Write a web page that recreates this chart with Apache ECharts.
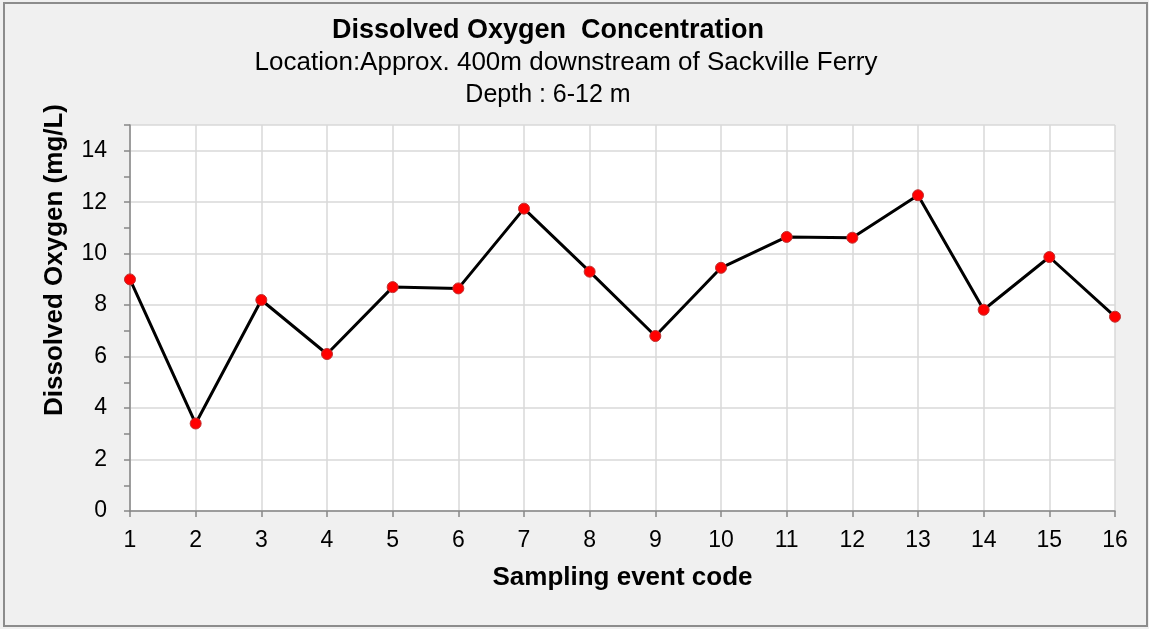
<!DOCTYPE html>
<html lang="en">
<head>
  <meta charset="UTF-8">
  <title>dissolved oxygen</title>
  <style>
    * { padding: 0; margin: 0; }
    body { background: #f0f0f0; }
    #charts { width: 1149px; height: 629px; }
  </style>
</head>
<body>
  <div id="charts"></div>
</body>
<script src="https://cdn.jsdelivr.net/npm/echarts@6/dist/echarts.min.js" type="text/javascript"></script>
<script type="text/javascript">
  var eventCodes = [1, 2, 3, 4, 5, 6, 7, 8, 9, 10, 11, 12, 13, 14, 15, 16]
  var oxygenValues = [9.0, 3.4, 8.2, 6.1, 8.7, 8.65, 11.75, 9.3, 6.8, 9.45, 10.65, 10.62, 12.27, 7.82, 9.87, 7.55]
  var titleText = 'Dissolved Oxygen  Concentration'
  var subLines = ['Location:Approx. 400m downstream of Sackville Ferry', 'Depth : 6-12 m']

  var myChart = echarts.init(document.getElementById('charts'))
  var font = 'Liberation Sans, Arial, sans-serif'

  function buildData() {
    var out = []
    for (var i = 0; i < eventCodes.length; i++) {
      out.push([eventCodes[i], oxygenValues[i]])
    }
    return out
  }

  var option = {
    backgroundColor: '#f0f0f0',
    animation: false,
    textStyle: { fontFamily: font },
    title: [{
      text: titleText,
      left: 548,
      top: 17,
      textAlign: 'center',
      padding: 0,
      textStyle: { fontSize: 27, fontWeight: 'bold', color: '#000', fontFamily: font }
    }, {
      text: subLines[0],
      left: 566,
      top: 50,
      textAlign: 'center',
      padding: 0,
      textStyle: { fontSize: 26, fontWeight: 'normal', color: '#000', fontFamily: font }
    }, {
      text: subLines[1],
      left: 548,
      top: 83,
      textAlign: 'center',
      padding: 0,
      textStyle: { fontSize: 25, fontWeight: 'normal', color: '#000', fontFamily: font }
    }],
    graphic: [{
      type: 'rect',
      shape: { x: 4, y: 3, width: 1143, height: 623 },
      style: { fill: 'none', stroke: '#8c8c8c', lineWidth: 2 },
      silent: true
    }, {
      type: 'text',
      x: 55,
      y: 260,
      rotation: Math.PI / 2,
      style: {
        text: 'Dissolved Oxygen (mg/L)',
        fontSize: 26,
        fontWeight: 'bold',
        fontFamily: font,
        fill: '#000',
        align: 'center',
        verticalAlign: 'middle'
      }
    }],
    grid: {
      left: 130,
      right: 34,
      top: 125,
      bottom: 118,
      show: true,
      backgroundColor: '#fff',
      borderWidth: 0
    },
    xAxis: {
      type: 'value',
      min: 1,
      max: 16,
      interval: 1,
      name: 'Sampling event code',
      nameLocation: 'middle',
      nameGap: 54,
      nameTextStyle: { fontSize: 26, fontWeight: 'bold', color: '#000', fontFamily: font },
      axisLine: { lineStyle: { color: '#868686', width: 1.5 } },
      axisTick: { show: true, length: 6, lineStyle: { color: '#868686', width: 1.5 } },
      axisLabel: { fontSize: 23, color: '#000', margin: 18, fontFamily: font },
      splitLine: { show: true, lineStyle: { color: '#d9d9d9', width: 1.5 } }
    },
    yAxis: [{
      type: 'value',
      min: 0,
      max: 15,
      interval: 1,
      axisLine: { show: true, lineStyle: { color: '#868686', width: 1.5 } },
      axisTick: { show: true, length: 6, lineStyle: { color: '#868686', width: 1.5 } },
      axisLabel: {
        fontSize: 23, color: '#000', margin: 23, fontFamily: font,
        formatter: function (v) { return v % 2 === 0 ? String(v) : '' }
      },
      splitLine: { show: false }
    }, {
      type: 'value',
      min: 0,
      max: 15,
      interval: 2,
      position: 'left',
      axisLine: { show: false },
      axisTick: { show: false },
      axisLabel: { show: false },
      splitLine: { show: true, lineStyle: { color: '#d9d9d9', width: 1.5 } }
    }],
    series: [{
      type: 'line',
      yAxisIndex: 0,
      data: buildData(),
      symbol: 'circle',
      symbolSize: 11,
      lineStyle: { color: '#000', width: 3 },
      itemStyle: { color: '#ff0000', borderColor: '#c0302f', borderWidth: 1 },
      z: 5
    }]
  }
  myChart.setOption(option)
</script>
</html>
